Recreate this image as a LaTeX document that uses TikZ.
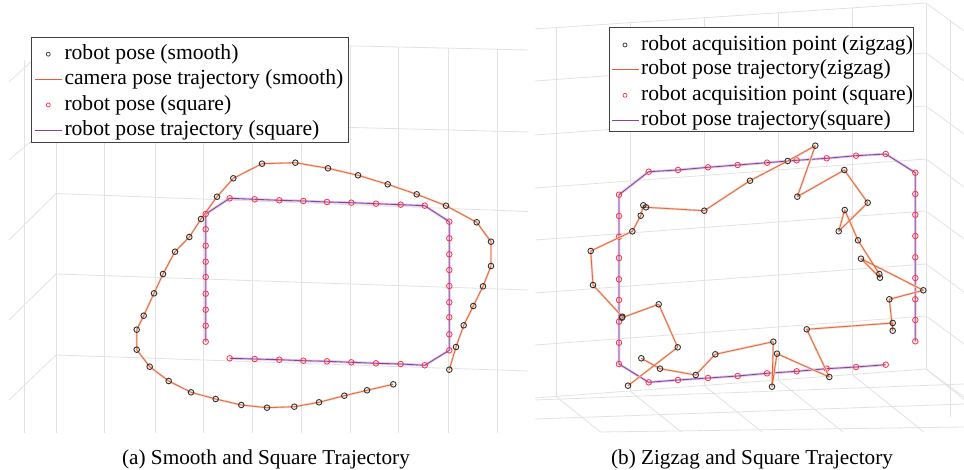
\documentclass[tikz,border=0pt]{standalone}
\usepackage{fontspec}
\setmainfont{Liberation Serif}

\definecolor{gridc}{HTML}{E2E2E2}
\definecolor{trajorange}{HTML}{E4693A}
\definecolor{trajpurple}{HTML}{8C3FA3}
\definecolor{markdark}{HTML}{333333}
\definecolor{markred}{HTML}{FF3040}

\tikzset{
  gridline/.style={draw=gridc, line width=0.8pt},
  orangepath/.style={draw=trajorange, line width=0.85pt, line join=round},
  orangeglow/.style={draw=trajorange!30, line width=2.2pt, line join=round},
  purplepath/.style={draw=trajpurple, line width=0.85pt, line join=round},
  purpleglow/.style={draw=trajpurple!28, line width=2.6pt, line join=round},
  darkmark/.style={draw=markdark, line width=0.9pt},
  redmark/.style={draw=markred, line width=0.8pt},
  legendbox/.style={draw=black!75, line width=0.9pt, fill=white},
  legendtext/.style={anchor=west, inner sep=0pt, font=\fontsize{21.6}{24}\selectfont},
  captiontext/.style={inner sep=0pt, font=\fontsize{21.2}{24}\selectfont},
  legendorange/.style={draw=trajorange!90!red, line width=1.3pt},
  legendpurple/.style={draw=trajpurple, line width=1.2pt},
}

% named points of one series: prefix, list of x/y; \npts keeps the count
\newcommand\definepoints[2]{%
  \foreach \px/\py [count=\i] in {#2} {\coordinate (#1\i) at (\px,\py); \xdef\npts{\i}}%
}
% polyline through the named points of a series
\newcommand\polyline[2]{%
  \draw[#1] (#21) \foreach \k in {2,...,\npts} {-- (#2\k)};%
}
% circle markers on the named points of a series
\newcommand\markers[2]{%
  \foreach \k in {1,...,\npts} {\draw[#1] (#2\k) circle[radius=2.8pt];}%
}

\begin{document}
\begin{tikzpicture}[x=1pt, y=-1pt]
\useasboundingbox (0,0) rectangle (964,470);

% ---------------- left panel: grid ----------------
\draw[gridline] (56,39) -- (528,50);
\draw[gridline] (56,120) -- (528,132);
\draw[gridline] (56,193.5) -- (528,211.5);
\draw[gridline] (56,274) -- (528,290);
\draw[gridline] (56,355) -- (528,371);
\foreach \x/\t in {56/39, 104.8/40.2, 155.3/41.3, 203.3/42.4, 252.5/43.6, 301.2/44.7, 350/45.8, 398.7/47, 448/48.1, 497/49.3}
  \draw[gridline] (\x,\t) -- (\x,433);
\draw[gridline] (24,60) -- (24,433);
\draw[gridline] (9,82) -- (56,39);
\draw[gridline] (9,160) -- (56,120);
\draw[gridline] (9,240) -- (56,193.5);
\draw[gridline] (9,320) -- (56,274);
\draw[gridline] (9,400) -- (56,355);

% ---------------- right panel: grid ----------------
% back wall and right wall
\foreach \yl/\yr in {29/3, 81/53, 135/106, 188/159, 240/211, 293/264, 345/316, 398/369}
  \draw[gridline] (535,\yl) -- (926,\yr) -- (964,\yr+28);
\foreach \x/\t/\b in {556/27.6/396.4, 630/22.7/391, 704/17.8/385.5, 778/12.8/380, 852/7.9/374.5, 926/3/369}
  {\draw[gridline] (\x,\t) -- (\x,\b);
   \draw[gridline] (\x,\b) -- ({min(964,\x+(432-\b)/0.8)},{min(432,\b+(964-\x)*0.8)});}
\draw[gridline] (950,20) -- (950,417);
% floor
\draw[gridline] (535,400) -- (964,384);
\draw[gridline] (535,419) -- (964,404);
\draw[gridline] (600,432) -- (964,427);

% ---------------- left panel: trajectories ----------------
\definepoints{sq}{229.7/358.3, 254.7/359, 279.3/359.7, 303.3/360.7, 327/361.3, 351.3/362.3, 376/363.3, 400.7/364, 424.7/365.3,
  449.3/350.3, 449.3/334.3, 449.3/317.3, 449.3/302.3, 449.3/286, 449.3/270, 449.3/254.3, 449.3/238.3, 449.3/221.7,
  424.7/205.7, 400.7/204.7, 376/203.7, 351.3/202.7, 327/202, 303.3/201, 279.3/200.3, 254.7/199.3, 229.7/198.3,
  205.7/214, 205.7/229.3, 205.7/245.7, 205.7/261.7, 205.7/277, 205.7/293.7, 205.7/309.7, 205.7/325.7, 205.7/341.7}
\polyline{purpleglow}{sq}
\polyline{purplepath}{sq}

\definepoints{sm}{449.3/369.7, 456/347, 463.7/325.3, 473.3/306, 483/286.3, 491/266, 491/241.7, 476.7/222.3, 446/205.7,
  416.7/194.3, 387.7/184.3, 358/175.3, 328/168.3, 295.3/162.7, 262/163.7, 233.3/178.3, 217/196.7, 201/219,
  189.3/237, 175/251.7, 163/274, 154/293.3, 143.7/315.7, 136.7/329.7, 136.7/349.7, 149.7/366.7, 168.7/381,
  191/392.3, 215.7/399, 241.3/405, 267/407.7, 294.3/406.7, 319/402.3, 344.3/395.7, 367/390.3, 393.3/384.3}
\polyline{orangeglow}{sm}
\polyline{orangepath}{sm}
\markers{darkmark}{sm}

\xdef\npts{36}
\markers{redmark}{sq}

% ---------------- right panel: trajectories ----------------
\definepoints{rq}{915.3/341.3, 915.3/320, 915.3/299.3, 915.3/278, 915.3/257.3, 915.3/236, 915.3/214.7, 915.3/194, 915.3/172.7,
  885.7/154, 856/155.7, 826.7/158.3, 796.7/160.3, 767/162.7, 737.7/165, 708/167.3, 678/170, 648.7/171.7,
  619/194.7, 619/216, 619/236.7, 619/258, 619/279.3, 619/300, 619/321.7, 619/342.7, 619/364,
  648.7/382.3, 678/380, 708/378, 737.7/376, 767/373.3, 796.7/371.3, 826.7/368.7, 856/367, 885.7/364.7}
\polyline{purpleglow}{rq}
\polyline{purplepath}{rq}
\markers{redmark}{rq}

\definepoints{zz}{641.3/358.3, 660/368.7, 695.7/375, 715.3/354.3, 773.3/341.7, 772/386.7, 777/353.7, 829.3/377,
  806.7/329.3, 892.7/323, 892.7/330.7, 889.3/299.3, 923.3/290.3, 861/258.7, 880/277.7, 879.3/274, 858/240.3,
  844.7/210, 838.7/231.3, 867.7/202.7, 844.3/170, 797.3/196.7, 815.3/145.7, 787.7/161, 750/180.7, 704.3/210.7,
  646/207.3, 643.3/205.3, 640.7/215.7, 632.3/231.3, 590.7/251, 593/285, 622.3/316.7, 622/317.7, 658.7/304.3,
  677.7/347.3, 628/385.7}
\polyline{orangeglow}{zz}
\polyline{orangepath}{zz}
\markers{darkmark}{zz}

% ---------------- legends ----------------
\draw[legendbox] (31.7,37.3) rectangle (348.3,142.3);
\draw[darkmark, line width=0.7pt] (48.3,54.2) circle[radius=2pt];
\node[legendtext] (la1) at (64.3,54.2) {robot pose (smooth)};
\draw[legendorange] (35,79.5) coordinate (la2s) -- (61.7,79.5) coordinate (la2e);
\node[legendtext] (la2) at (64.3,79.7) {camera pose trajectory (smooth)};
\draw[redmark, line width=0.7pt] (48.3,105) circle[radius=2pt];
\node[legendtext] (la3) at (64.3,105) {robot pose (square)};
\draw[legendpurple] (35,130.5) coordinate (la4s) -- (61.7,130.5) coordinate (la4e);
\node[legendtext] (la4) at (64.3,130.3) {robot pose trajectory (square)};

\draw[legendbox] (609,27.3) rectangle (913.3,131);
\draw[darkmark, line width=0.7pt] (625,45) circle[radius=2pt];
\node[legendtext] (lb1) at (641,45) {robot acquisition point (zigzag)};
\draw[legendorange] (612.3,69.5) coordinate (lb2s) -- (639,69.5) coordinate (lb2e);
\node[legendtext] (lb2) at (641,69.7) {robot pose trajectory(zigzag)};
\draw[redmark, line width=0.7pt] (625,95.3) circle[radius=2pt];
\node[legendtext] (lb3) at (641,95.3) {robot acquisition point (square)};
\draw[legendpurple] (612.3,120.5) coordinate (lb4s) -- (639,120.5) coordinate (lb4e);
\node[legendtext] (lb4) at (641,120.3) {robot pose trajectory(square)};

% ---------------- captions ----------------
\node[captiontext] (capa) at (266,459) {(a) Smooth and Square Trajectory};
\node[captiontext] (capb) at (752,459) {(b) Zigzag and Square Trajectory};
\end{tikzpicture}
\end{document}
